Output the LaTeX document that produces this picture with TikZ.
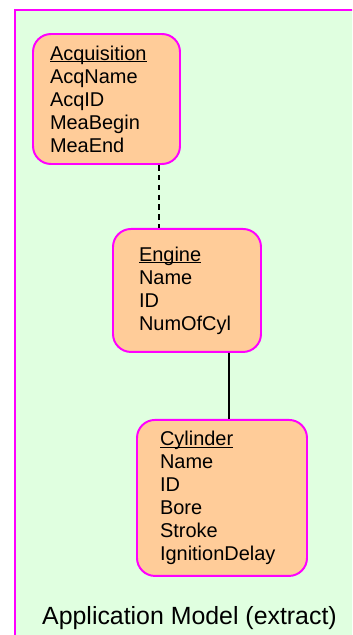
\documentclass[tikz,border=0pt]{standalone}
\usepackage{fontspec}
\setmainfont{Liberation Sans}
\usepackage{xcolor}
\usetikzlibrary{positioning, calc}
\definecolor{framecolor}{RGB}{255, 0, 255}
\definecolor{modelbg}{RGB}{224, 255, 224}
\definecolor{entitycolor}{RGB}{255, 204, 153}
\newcommand\entityname[1]{\setbox0\hbox{#1}\rlap{\rule[-1.6pt]{\wd0}{0.8pt}}\box0}

\begin{document}
\begin{tikzpicture}[
    entity/.style={draw=framecolor, fill=entitycolor, line width=1.4pt, rounded corners=0.45cm, inner xsep=0pt, align=left, font=\fontsize{14.2}{16.4}\selectfont},
    link/.style={line width=1.1pt}
]
    \useasboundingbox (0,0) rectangle (8.8,-15.875);
    \begin{scope}
        \clip (0,0) rectangle (8.8,-15.875);
        \draw[framecolor, fill=modelbg, line width=1.4pt] (0.375,-0.25) rectangle (10,-17.5);
    \end{scope}

    \node[entity, minimum width=3.675cm, minimum height=3.25cm, text width=2.825cm] (acq) at (2.6625,-2.475)
        {\entityname{Acquisition}\\AcqName\\AcqID\\MeaBegin\\MeaEnd};
    \node[entity, minimum width=3.7cm, minimum height=3.075cm, text width=2.4cm, below=1.575cm of acq, xshift=2.0125cm] (engine)
        {\entityname{Engine}\\Name\\ID\\NumOfCyl};
    \node[entity, minimum width=4.25cm, minimum height=3.9cm, text width=3.1cm, below=1.65cm of engine, xshift=0.875cm] (cylinder)
        {\entityname{Cylinder}\\Name\\ID\\Bore\\Stroke\\IgnitionDelay};

    \draw[link, dash pattern=on 4pt off 3pt] ([xshift=1.3125cm]acq.south) -- ([xshift=-0.7cm]engine.north);
    \draw[link] ([xshift=1.05cm]engine.south) -- ([xshift=0.175cm]cylinder.north);

    \node[anchor=base, font=\fontsize{17.7}{20}\selectfont] (caption) at (4.7375,-15.6) {Application Model (extract)};
\end{tikzpicture}
\end{document}
